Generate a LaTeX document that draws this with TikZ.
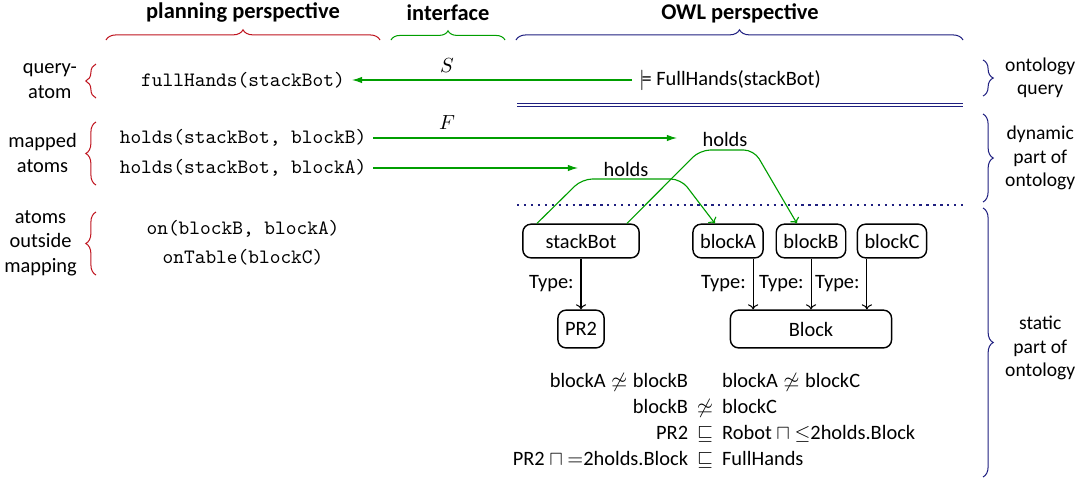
\documentclass[tikz,border=0pt]{standalone}
\usepackage{amsmath}
\usepackage{fontspec}
\setmainfont{Carlito}
\usetikzlibrary{arrows.meta,decorations.pathreplacing,calc}
\definecolor{PlanClr}{rgb}{0.75,0.08,0.12}
\definecolor{MapClr}{rgb}{0,0.62,0}
\definecolor{OwlClr}{rgb}{0.12,0.12,0.5}

\begin{document}
\begin{tikzpicture}[x=0.49pt,y=-0.49pt,
  header/.style={font=\fontsize{11}{13}\selectfont\bfseries},
  atom/.style={font=\ttfamily},
  rowlabel/.style={align=center,anchor=east},
  partlabel/.style={align=center,anchor=west,font=\fontsize{9.6}{11.4}\selectfont},
  indiv/.style={draw,line width=0.7pt,rounded corners=4pt,minimum height=16.5pt,inner xsep=3.5pt},
  concept/.style={indiv,minimum height=18.5pt},
  planbrace/.style={PlanClr,line width=0.5pt,decorate,decoration={brace,amplitude=5pt}},
  ifacebrace/.style={MapClr,line width=0.5pt,decorate,decoration={brace,amplitude=4.5pt}},
  owlbrace/.style={OwlClr,line width=0.5pt,decorate,decoration={brace,amplitude=5pt}},
  maparrow/.style={MapClr,line width=0.55pt,-{Latex[length=5pt,width=3.2pt]}},
  holdsedge/.style={MapClr,line width=0.55pt,rounded corners=5pt,-{To[length=2.5pt,width=5pt]}},
  typeedge/.style={line width=0.5pt,-{To[length=2.5pt,width=5pt]}}]

\useasboundingbox (0,0) rectangle (1079,479);

\node[header] (hPlan) at (243,13) {planning perspective};
\node[header] (hIface) at (448,13) {interface};
\node[header] (hOwl) at (740,13) {OWL perspective};

\draw[planbrace] (106,40) -- (380,40);
\draw[ifacebrace] (391,40) -- (505,40);
\draw[owlbrace] (516,40) -- (963,40);

\node[rowlabel] (lQuery) at (84,81) {query-\\atom};
\node[rowlabel] (lMapped) at (84,153) {mapped\\atoms};
\node[rowlabel] (lOutside) at (84,243) {atoms\\outside\\mapping};

\draw[planbrace] (96,98) -- (96,64);
\draw[planbrace] (96,185) -- (96,122);
\draw[planbrace] (96,275) -- (96,212);

\node[atom] (qAtom) at (243,80) {fullHands(stackBot)};
\node[atom] (mB) at (243,138) {holds(stackBot, blockB)};
\node[atom] (mA) at (243,168) {holds(stackBot, blockA)};
\node[atom] (oB) at (243,229) {on(blockB, blockA)};
\node[atom] (oC) at (243,257) {onTable(blockC)};

\node (query) at (730,80) {$\models$\ FullHands(stackBot)};
\node (lblS) at (447,66) {$S$};
\node (lblF) at (447,123) {$F$};

\draw[maparrow] (query.west) -- (qAtom.east);

\draw[OwlClr,double,line width=0.5pt,double distance=1.3pt] (517,105) -- (963,105);
\draw[OwlClr,line width=1.1pt,dash pattern=on 1.1pt off 2.3pt] (517,205) -- (963,205);

\node[partlabel] (pQuery) at (998,78) {ontology\\query};
\node[partlabel] (pDyn) at (998,158) {dynamic\\part of\\ontology};
\node[partlabel] (pStat) at (998,348) {static\\part of\\ontology};

\draw[owlbrace] (983,60) -- (983,96);
\draw[owlbrace] (983,114) -- (983,202);
\draw[owlbrace] (983,208) -- (983,477);

\node[indiv,minimum width=57pt] (stackBot) at (581,241) {stackBot};
\node[indiv] (blockA) at (728,241) {blockA};
\node[indiv] (blockB) at (811,241) {blockB};
\node[indiv] (blockC) at (892,241) {blockC};
\node[concept] (PR2) at (581,329) {PR2};
\node[concept,minimum width=79pt] (Block) at (811,329) {Block};

\node (holdsB) at (725,139) {holds};
\node (holdsA) at (626,169) {holds};

\draw[maparrow,shorten >=9pt] (mB.east) -- (mB.east -| holdsB.west);
\draw[maparrow,shorten >=9pt] (mA.east) -- (mA.east -| holdsA.west);

\coordinate (cornerA1) at (582,179);
\coordinate (cornerA2) at (681,179);
\coordinate (cornerB1) at (700,150);
\coordinate (cornerB2) at (754,150);

\draw[holdsedge] ([xshift=-21.6pt]stackBot.north) -- (cornerA1) -- (cornerA2) -- ([xshift=-6.4pt]blockA.north);
\draw[holdsedge] ([xshift=22.5pt]stackBot.north) -- (cornerB1) -- (cornerB2) -- ([xshift=-6.9pt]blockB.north);

\draw[typeedge] (stackBot) -- node[left] {Type:} (PR2);
\draw[typeedge] ([xshift=12.3pt]blockA.south) -- node[left] {Type:} ([xshift=12.3pt]blockA.south |- Block.north);
\draw[typeedge] (blockB) -- node[left] {Type:} (Block);
\draw[typeedge] ([xshift=-12.3pt]blockC.south) -- node[left] {Type:} ([xshift=-12.3pt]blockC.south |- Block.north);

\node (axioms) at (714,421) {\renewcommand{\arraystretch}{1.06}$\begin{array}{r@{\;\,}c@{\;\,}l}
  \text{blockA}\not\simeq\text{blockB} & & \text{blockA}\not\simeq\text{blockC}\\
  \text{blockB} & \not\simeq & \text{blockC}\\
  \text{PR2} & \sqsubseteq & \text{Robot}\sqcap{\leq}\text{2holds.Block}\\
  \text{PR2}\sqcap{=}\text{2holds.Block} & \sqsubseteq & \text{FullHands}
\end{array}$};

\end{tikzpicture}
\end{document}
